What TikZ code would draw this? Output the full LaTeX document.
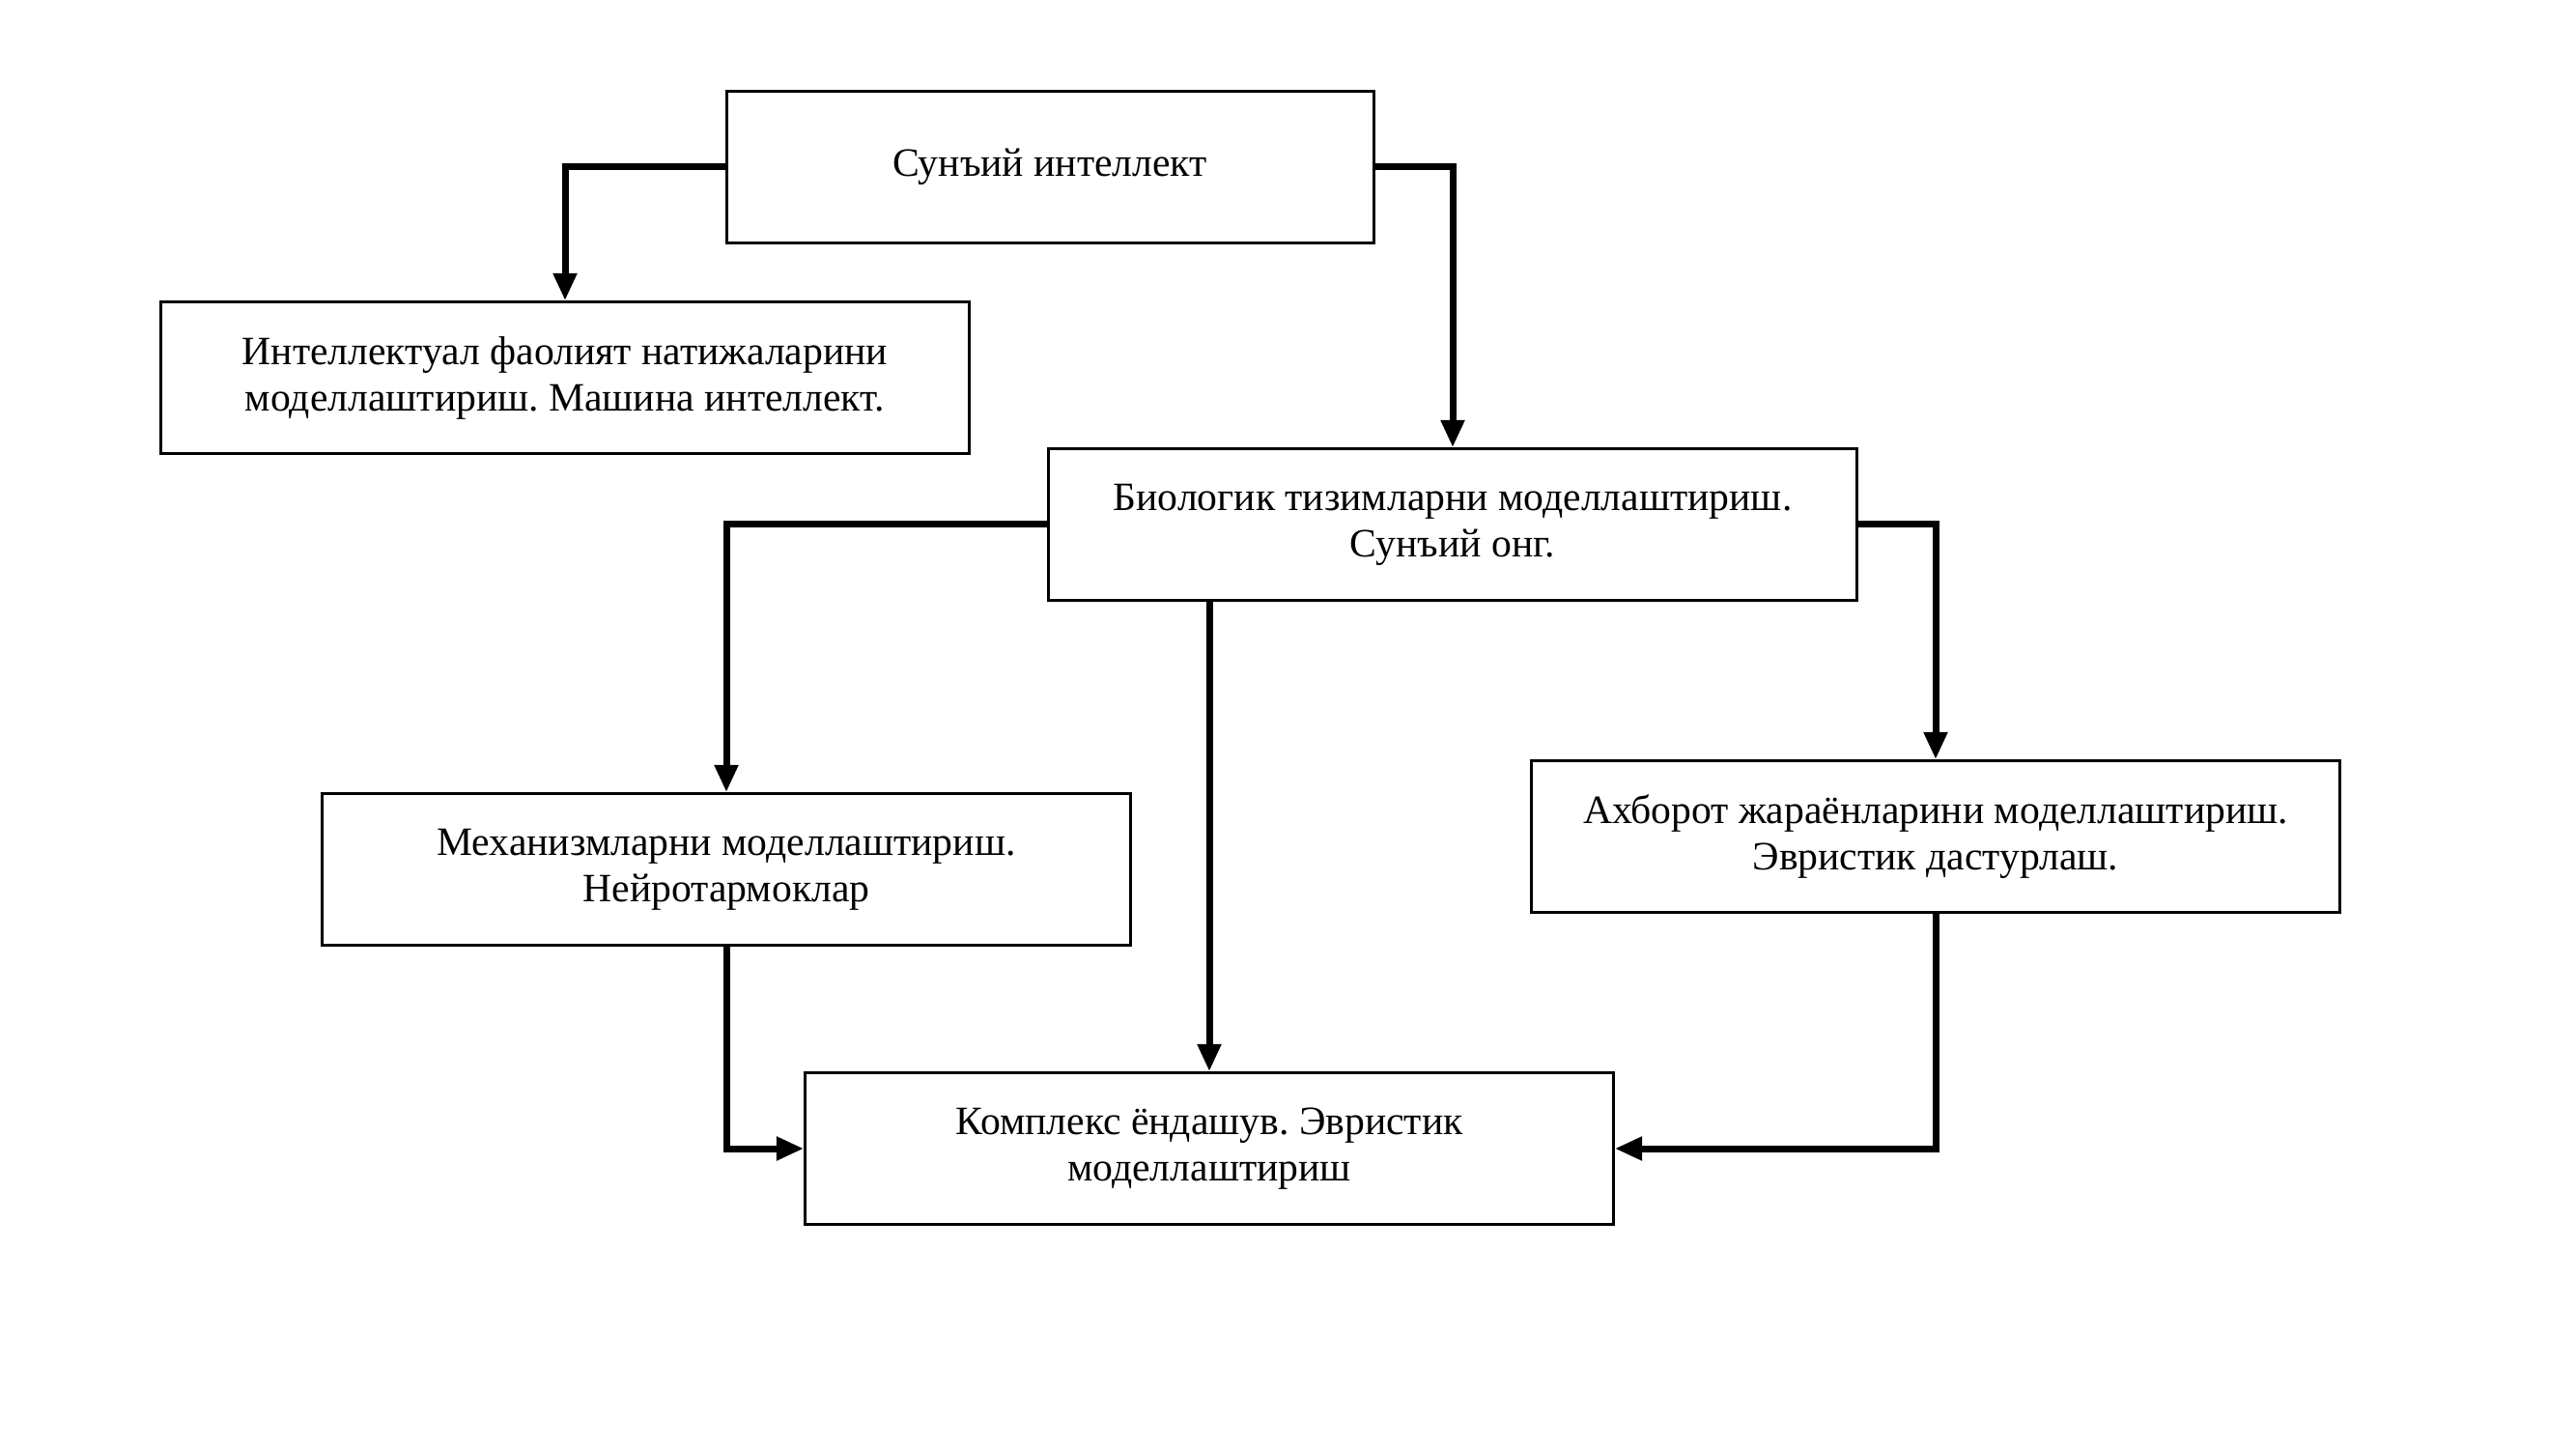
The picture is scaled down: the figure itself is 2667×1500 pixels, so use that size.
\documentclass[tikz,border=0pt]{standalone}
\usepackage{fontspec}
\setmainfont{Liberation Serif}
\frenchspacing
\usetikzlibrary{arrows.meta}

\tikzset{every picture/.style={line width=0.75pt}}
\tikzset{
mbox/.style={draw, line width=0.9pt, inner sep=0pt, minimum height=47pt, minimum width=251pt, align=center, font=\fontsize{12.5}{14.4}\selectfont},
conn/.style={line width=2.1pt, -{Triangle[length=8.5pt,width=7pt]}}}

\begin{document}
\begin{tikzpicture}[x=0.3pt,y=0.3pt,yscale=-1,xscale=1]
\useasboundingbox (0,0) rectangle (2667,1500);

%Shape: Rectangle [id:ai]
\node [mbox, minimum width=201pt] (ai) at (1087,173) {Сунъий интеллект};
%Shape: Rectangle [id:machine]
\node [mbox] (machine) at (585,391) {Интеллектуал фаолият натижаларини\\моделлаштириш. Машина интеллект.};
%Shape: Rectangle [id:bio]
\node [mbox] (bio) at (1504,543) {Биологик тизимларни моделлаштириш.\\Сунъий онг.};
%Shape: Rectangle [id:neuro]
\node [mbox] (neuro) at (752,900) {Механизмларни моделлаштириш.\\Нейротармоклар};
%Shape: Rectangle [id:info]
\node [mbox] (info) at (2004,866) {Ахборот жараёнларини моделлаштириш.\\Эвристик дастурлаш.};
%Shape: Rectangle [id:complex]
\node [mbox] (complex) at (1252,1189) {Комплекс ёндашув. Эвристик\\моделлаштириш};

%Straight Lines
\draw [conn] (ai.west) -| (machine.north);
\draw [conn] (ai.east) -| (bio.north);
\draw [conn] (bio.west) -| (neuro.north);
\draw [conn] (bio.east) -| (info.north);
\draw [conn] (bio.south -| complex.north) -- (complex.north);
\draw [conn] (neuro.south) |- (complex.west);
\draw [conn] (info.south) |- (complex.east);

\end{tikzpicture}
\end{document}
